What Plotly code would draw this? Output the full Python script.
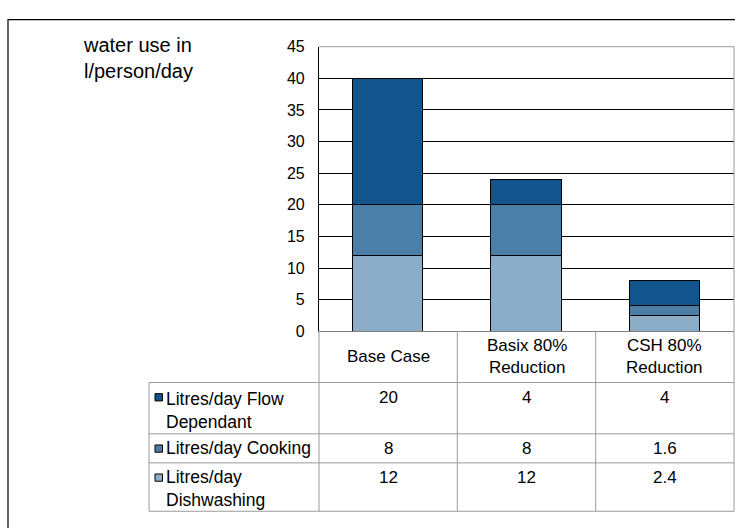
import plotly.graph_objects as go

# Scenario categories and per-person daily water use components (litres)
categories = ["Base Case", "Basix 80% Reduction", "CSH 80% Reduction"]
category_labels = ["Base Case", "Basix 80%<br>Reduction", "CSH 80%<br>Reduction"]

flow_dependant = [20, 4, 4]
cooking = [8, 8, 1.6]
dishwashing = [12, 12, 2.4]

series_names = ["Litres/day Flow Dependant", "Litres/day Cooking", "Litres/day Dishwashing"]
series_labels = ["Litres/day Flow<br>Dependant", "Litres/day Cooking", "Litres/day<br>Dishwashing"]
series_values = [flow_dependant, cooking, dishwashing]
series_colors = ["#12558C", "#4C7FA8", "#8BADC8"]

y_ticks = [0, 5, 10, 15, 20, 25, 30, 35, 40, 45]

W, H = 735, 528
FONT = "Liberation Sans, Arial, sans-serif"


def px(x):
    return x / W


def py(y):
    return 1 - y / H


fig = go.Figure()

# stacked from the bottom: dishwashing, cooking, flow dependant
for i in [2, 1, 0]:
    fig.add_trace(go.Bar(
        x=categories,
        y=series_values[i],
        name=series_names[i],
        width=0.51,
        marker=dict(color=series_colors[i], line=dict(color="#000000", width=1.2)),
        showlegend=False,
    ))

shapes = []
line_grey = dict(color="#9a9a9a", width=1)

# plot area frame (top and right edges)
shapes.append(dict(type="line", xref="paper", yref="paper", x0=px(319), x1=px(734),
                   y0=py(40), y1=py(40), line=line_grey, layer="above"))
shapes.append(dict(type="line", xref="paper", yref="paper", x0=px(734), x1=px(734),
                   y0=py(40), y1=py(334), line=line_grey, layer="above"))

# data table grid
col_edges = [319, 457.3, 595.7, 734]
row_edges = [387, 440, 470, 520]
for x in col_edges:
    shapes.append(dict(type="line", xref="paper", yref="paper", x0=px(x), x1=px(x),
                       y0=py(334), y1=py(520), line=line_grey))
shapes.append(dict(type="line", xref="paper", yref="paper", x0=px(149), x1=px(149),
                   y0=py(387), y1=py(520), line=line_grey))
for y in row_edges:
    shapes.append(dict(type="line", xref="paper", yref="paper", x0=px(149), x1=px(734),
                       y0=py(y), y1=py(y), line=line_grey))

# outer chart border
shapes.append(dict(type="rect", xref="paper", yref="paper", x0=px(8), x1=px(745),
                   y0=py(12), y1=py(540), line=dict(color="#000000", width=1.2)))

annotations = []

# axis title
annotations.append(dict(text="water use in<br>l/person/day", xref="paper", yref="paper",
                        x=px(81), y=py(52), xanchor="left", yanchor="middle", align="left",
                        showarrow=False, font=dict(family=FONT, size=20, color="#000000")))

# table header (category names)
for cat, lab in zip(categories, category_labels):
    annotations.append(dict(text=lab, xref="x", yref="paper", x=cat, y=py(360.5),
                            xanchor="center", yanchor="middle", showarrow=False,
                            font=dict(family=FONT, size=17, color="#000000")))

# table rows: legend key, series label, values
row_first_line = [402, 455, 485]
row_label_center = [415.5, 455, 496.5]
for r in range(3):
    yk = row_first_line[r]
    shapes.append(dict(type="rect", xref="paper", yref="paper", x0=px(155), x1=px(162.5),
                       y0=py(yk - 3.5), y1=py(yk + 4), fillcolor=series_colors[r],
                       line=dict(color="#000000", width=1)))
    annotations.append(dict(text=series_labels[r], xref="paper", yref="paper",
                            x=px(163.5), y=py(row_label_center[r]), xanchor="left",
                            yanchor="middle", align="left", showarrow=False,
                            font=dict(family=FONT, size=17.5, color="#000000")))
    for cat, v in zip(categories, series_values[r]):
        annotations.append(dict(text=f"{v:g}", xref="x", yref="paper", x=cat, y=py(yk),
                                xanchor="center", yanchor="middle", showarrow=False,
                                font=dict(family=FONT, size=17, color="#000000")))

fig.update_layout(
    width=W, height=H,
    margin=dict(l=0, r=0, t=0, b=0),
    paper_bgcolor="#ffffff", plot_bgcolor="#ffffff",
    barmode="stack",
    bargap=0,
    xaxis=dict(domain=[px(319), px(734)], range=[-0.5, 2.5], showticklabels=False,
               showgrid=False, showline=True, linecolor="#7f7f7f", linewidth=1.2,
               ticks="", zeroline=False, fixedrange=True),
    yaxis=dict(domain=[py(334), py(40)], range=[0, 45], tickvals=y_ticks,
               showgrid=True, gridcolor="#000000", gridwidth=1,
               showline=True, linecolor="#000000", linewidth=1.2, ticks="",
               zeroline=False, ticklabelstandoff=10,
               tickfont=dict(family=FONT, size=16, color="#000000"), fixedrange=True),
    shapes=shapes,
    annotations=annotations,
    font=dict(family=FONT),
)

fig.write_html("out.html")
